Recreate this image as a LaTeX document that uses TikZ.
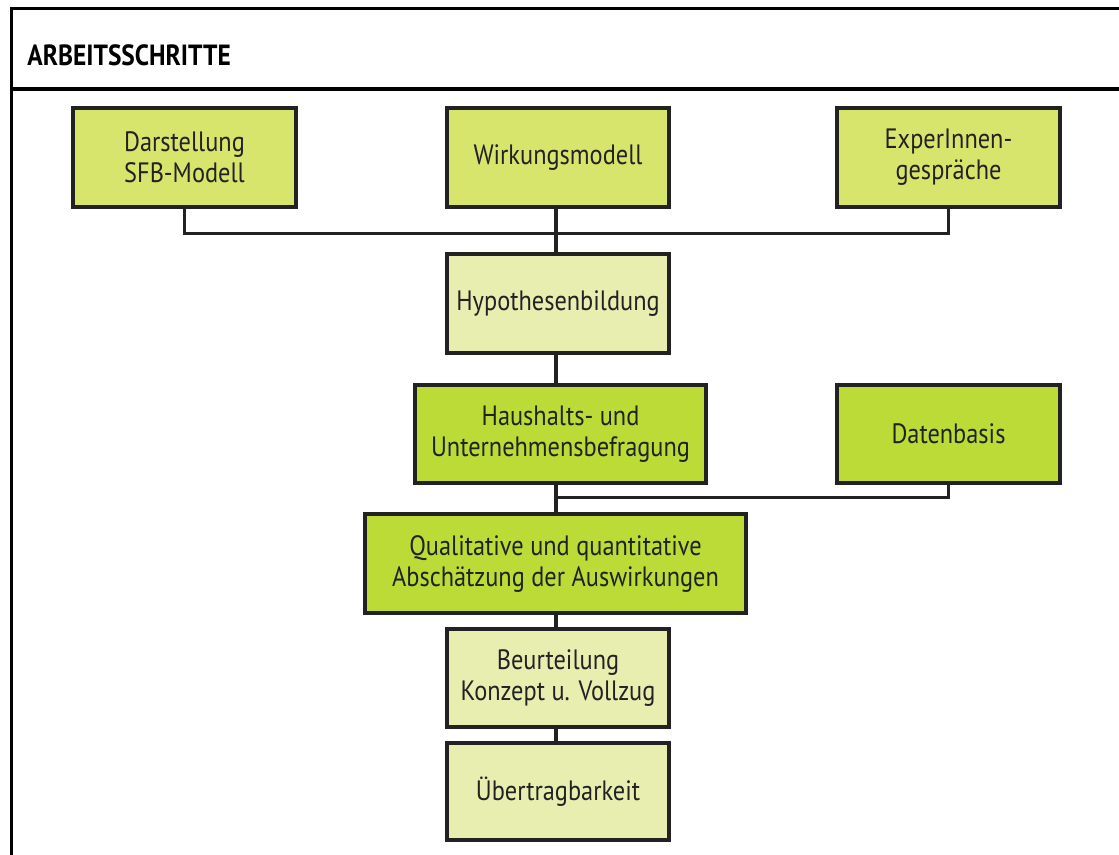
\documentclass[tikz,border=0pt]{standalone}
\usepackage{fontspec}
\setmainfont[FakeStretch=0.87]{PT Sans}
\usepackage{tikz}
\definecolor{lightlime}{HTML}{D8E56C}
\definecolor{palelime}{HTML}{E8EEB0}
\definecolor{strongline}{HTML}{BCDB37}
\definecolor{ink}{HTML}{222222}

\begin{document}
\begin{tikzpicture}[x=0.5pt,y=-0.5pt,
    stepbox/.style={draw=ink,line width=1.75pt,align=center,text=ink,
      inner sep=0pt,font=\fontsize{14}{15.5}\selectfont},
    link/.style={draw=ink,line width=1.6pt},
    frame/.style={draw=black,line width=1.6pt}]
  \useasboundingbox (0,0) rectangle (1119,855);
  \draw[frame] (11.5,855) -- (11.5,8.5) -- (1119,8.5);
  \draw[frame] (11.5,89) -- (1119,89);
  \node (title) [anchor=base west,inner sep=0pt,font=\bfseries\fontsize{14.6}{16}\selectfont] at (27,66) {ARBEITSSCHRITTE};

  \node (sfb)   [stepbox,fill=lightlime,minimum width=111.5pt,minimum height=49.5pt] at (184.5,157.5) {Darstellung\\SFB-Modell};
  \node (wirk)  [stepbox,fill=lightlime,minimum width=111pt,minimum height=49.5pt] at (558,157.5) {Wirkungsmodell};
  \node (exp)   [stepbox,fill=lightlime,minimum width=111.5pt,minimum height=49.5pt] at (948.5,157.5) {ExperInnen-\\gespräche};
  \node (hyp)   [stepbox,fill=palelime,minimum width=111pt,minimum height=49.5pt] at (558,303.5) {Hypothesenbildung};
  \node (haus)  [stepbox,fill=strongline,minimum width=145.5pt,minimum height=49pt] at (560.5,434) {Haushalts- und\\Unternehmensbefragung};
  \node (daten) [stepbox,fill=strongline,minimum width=111.5pt,minimum height=49pt] at (948.5,434) {Datenbasis};
  \node (qual)  [stepbox,fill=strongline,minimum width=190.5pt,minimum height=49.5pt] at (555.5,563.5) {Qualitative und quantitative\\Abschätzung der Auswirkungen};
  \node (beur)  [stepbox,fill=palelime,minimum width=111pt,minimum height=49pt] at (558,678) {Beurteilung\\Konzept u. Vollzug};
  \node (ueber) [stepbox,fill=palelime,minimum width=111pt,minimum height=48.5pt] at (558,791.5) {Übertragbarkeit};

  \coordinate (spine) at (556,0);
  \coordinate (bus1) at (0,233.5);
  \coordinate (bus2) at (0,497.5);
  \path[link]
    (sfb.south) |- (exp.south |- bus1) -- (exp.south)
    (spine |- wirk.south) -- (spine |- hyp.north)
    (spine |- hyp.south) -- (spine |- haus.north)
    (spine |- haus.south) -- (spine |- qual.north)
    (daten.south) |- (spine |- bus2)
    (spine |- qual.south) -- (spine |- beur.north)
    (spine |- beur.south) -- (spine |- ueber.north);
\end{tikzpicture}
\end{document}
